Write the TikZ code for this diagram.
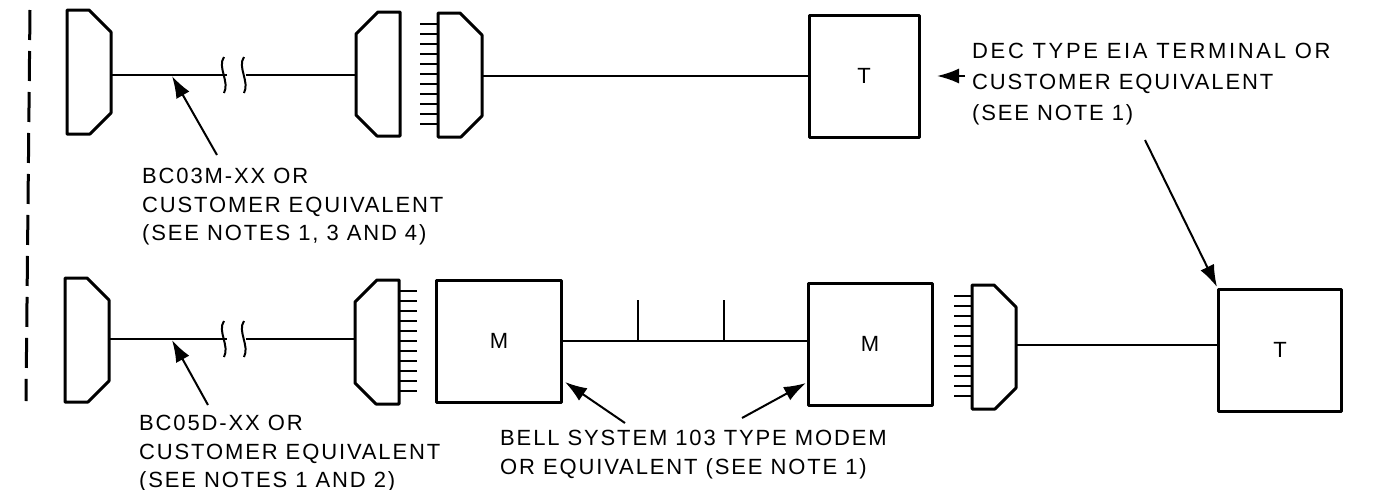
\documentclass[tikz,border=0pt]{standalone}
\usepackage{fontspec}
\setmainfont[LetterSpace=8.5]{Liberation Sans}
\usetikzlibrary{arrows.meta}

\tikzset{
    thickline/.style={line width=3pt, line join=round},
    cableline/.style={line width=2.2pt},
    breakline/.style={line width=2pt},
    leader/.style={line width=2pt, -{Latex[length=22pt,width=15pt]}},
    boxnode/.style={draw, thickline, minimum width=#1, minimum height=122pt, inner sep=0pt, font=\fontsize{22}{26}\selectfont},
    notetext/.style={anchor=north west, align=left, inner sep=0pt, font=\fontsize{22}{28.5}\selectfont},
    pics/plug/.style={code={
        \draw[thickline] (0,0) -- (22,0) -- (44,22) -- (44,103) -- (23,124) -- (0,124) -- cycle;
        \coordinate (-out) at (44,63);
    }},
    pics/pins/.style={code={
        \foreach \p in {0,...,10}
            \draw[cableline] (0,11+10*\p) -- (-18,11+10*\p);
    }},
    pics/gap/.style={code={
        \draw[breakline] (0,0) .. controls (-7,10) and (6,25) .. (0,36);
        \draw[breakline] (20,0) .. controls (13,10) and (26,25) .. (20,36);
        \coordinate (-in) at (3,18);
        \coordinate (-out) at (22,18);
    }}
}

\begin{document}
\begin{tikzpicture}[x=1pt, y=-1pt]
    \useasboundingbox (0,0) rectangle (1382,490);

    % --- 1. dashed edge on the left ---
    \coordinate (edgeTop) at (30,10);
    \coordinate (edgeBot) at (26,401);
    \draw[line width=3pt, dash pattern=on 30pt off 11pt] (edgeTop) -- (edgeBot);

    % --- 2. upper row ---
    \pic (plugA) at (67,10) {plug};
    \pic[xscale=-1] (plugB) at (400,12) {plug};
    \pic (plugC) at (438,13) {plug};
    \pic at (438,13) {pins};
    \pic (gapA) at (224,57) {gap};
    \node[boxnode=110pt] (termA) at (864,76) {T};

    \draw[cableline] (gapA-in -| plugA-out) -- (gapA-in);
    \draw[cableline] (gapA-out) -- (gapA-out -| plugB-out);
    \draw[cableline] (termA.west -| plugC-out) -- (termA.west);

    % --- 3. lower row ---
    \pic (plugD) at (65,278) {plug};
    \pic[xscale=-1] (plugE) at (399,280) {plug};
    \pic[xscale=-1] at (399,280) {pins};
    \pic (gapB) at (224,321) {gap};
    \node[boxnode=125pt] (modemA) at (499,341) {M};
    \node[boxnode=124pt] (modemB) at (870,344) {M};
    \pic (plugF) at (972,285) {plug};
    \pic at (972,285) {pins};
    \node[boxnode=123pt] (termB) at (1280,350) {T};
    \coordinate (lineF) at (1016,345);

    \draw[cableline] (gapB-in -| plugD-out) -- (gapB-in);
    \draw[cableline] (gapB-out) -- (gapB-out -| plugE-out);
    \draw[cableline] (modemA.east) -- (modemB.west |- modemA.east) coordinate (lineEnd);
    \draw[cableline] (lineF) -- (lineF -| termB.west);

    % the two short stubs on the telephone line
    \coordinate (stubA) at (638,300);
    \coordinate (stubB) at (724,300);
    \draw[cableline] (stubA) -- (stubA |- lineEnd);
    \draw[cableline] (stubB) -- (stubB |- lineEnd);

    % --- 4. notes ---
    \node[notetext] (noteA) at (142,168) {BC03M-XX OR\\CUSTOMER EQUIVALENT\\(SEE NOTES 1, 3 AND 4)};
    \node[notetext] (noteB) at (139,415) {BC05D-XX OR\\CUSTOMER EQUIVALENT\\(SEE NOTES 1 AND 2)};
    \node[notetext] (noteC) at (500,430) {BELL SYSTEM 103 TYPE MODEM\\OR EQUIVALENT (SEE NOTE 1)};
    \node[notetext] (noteD) at (972,43) {{\addfontfeatures{LetterSpace=12}DEC TYPE EIA TERMINAL OR}\\[2.5pt]CUSTOMER EQUIVALENT\\[2.5pt](SEE NOTE 1)};

    % --- 5. leaders, tail then tip ---
    \coordinate (tailA) at (217,155);
    \coordinate (tipA) at (172,76);
    \coordinate (tailB) at (208,405);
    \coordinate (tipB) at (172,340);
    \coordinate (tailC) at (625,423);
    \coordinate (tipC) at (565,382);
    \coordinate (tailD) at (742,418);
    \coordinate (tipD) at (806,383);
    \coordinate (tailE) at (965,76);
    \coordinate (tipE) at (937,76);
    \coordinate (tailF) at (1145,140);
    \coordinate (tipF) at (1217,287);
    \draw[leader] (tailA) -- (tipA);
    \draw[leader] (tailB) -- (tipB);
    \draw[leader] (tailC) -- (tipC);
    \draw[leader] (tailD) -- (tipD);
    \draw[leader] (tailE) -- (tipE);
    \draw[leader] (tailF) -- (tipF);
\end{tikzpicture}
\end{document}
